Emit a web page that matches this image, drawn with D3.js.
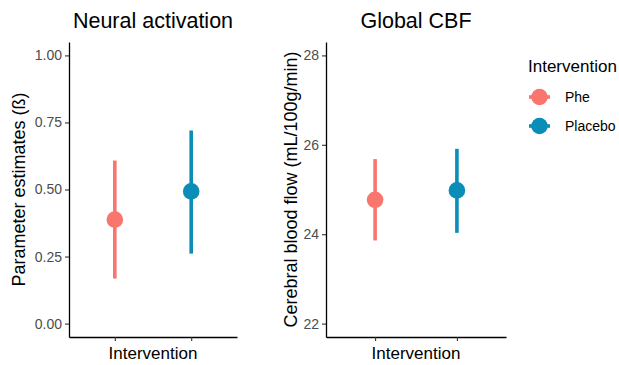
<!DOCTYPE html>
<html>
<head>
<meta charset="utf-8">
<script src="https://cdn.jsdelivr.net/npm/d3@7"></script>
<style>
  body { margin: 0; background: #fff; }
  text { font-family: "Liberation Sans", Arial, sans-serif; }
</style>
</head>
<body>
<div id="chart"></div>
<script>
// data
var groups = ["Phe", "Placebo"];
var colors = ["#F8766D", "#0A8DB6"];

var neuralMean = [0.388, 0.493];
var neuralLow = [0.168, 0.261];
var neuralHigh = [0.608, 0.720];
var neuralTicks = [0, 0.25, 0.5, 0.75, 1];

var cbfMean = [24.77, 24.98];
var cbfLow = [23.86, 24.03];
var cbfHigh = [25.68, 25.91];
var cbfTicks = [22, 24, 26, 28];

var width = 619, height = 365;

var svg = d3.select("#chart")
  .append("svg")
    .attr("width", width)
    .attr("height", height);

var color = d3.scaleOrdinal().domain(groups).range(colors);

function panel(opts) {
  var g = svg.append("g");

  // ggplot style: 5% expansion on continuous, 0.6 on discrete
  var span = opts.domain[1] - opts.domain[0];
  var y = d3.scaleLinear()
    .domain([opts.domain[0] - span * 0.05, opts.domain[1] + span * 0.05])
    .range([opts.bottom, opts.top]);
  var x = d3.scaleLinear()
    .domain([0.4, 2.6])
    .range([opts.left, opts.right]);

  var yAxis = g.append("g")
    .attr("transform", "translate(" + opts.left + ",0)")
    .call(d3.axisLeft(y).tickValues(opts.ticks).tickFormat(opts.fmt).tickSize(4).tickPadding(3).tickSizeOuter(0));
  var xAxis = g.append("g")
    .attr("transform", "translate(0," + opts.bottom + ")")
    .call(d3.axisBottom(x).tickValues([1, 2]).tickFormat("").tickSize(4).tickSizeOuter(0));

  [yAxis, xAxis].forEach(function(a) {
    a.select(".domain").attr("stroke", "#000").attr("stroke-width", 1.3);
    a.selectAll(".tick line").attr("stroke", "#333").attr("stroke-width", 1.1);
    a.selectAll(".tick text")
      .attr("fill", "#4d4d4d")
      .style("font-size", "14px")
      .style("font-family", "'Liberation Sans', Arial, sans-serif");
  });

  var data = groups.map(function(d, i) {
    return { group: d, pos: i + 1, mean: opts.mean[i], low: opts.low[i], high: opts.high[i] };
  });

  g.selectAll(".range")
    .data(data)
    .enter()
    .append("line")
      .attr("x1", d => x(d.pos))
      .attr("x2", d => x(d.pos))
      .attr("y1", d => y(d.low))
      .attr("y2", d => y(d.high))
      .attr("stroke", d => color(d.group))
      .attr("stroke-width", 3.6);

  g.selectAll(".pt")
    .data(data)
    .enter()
    .append("circle")
      .attr("cx", d => x(d.pos))
      .attr("cy", d => y(d.mean))
      .attr("r", 8.3)
      .attr("fill", d => color(d.group));

  // titles
  var cx = (opts.left + opts.right) / 2;
  g.append("text")
    .attr("x", cx)
    .attr("y", 28)
    .attr("text-anchor", "middle")
    .style("font-size", "21.5px")
    .text(opts.title);

  g.append("text")
    .attr("x", cx)
    .attr("y", 359)
    .attr("text-anchor", "middle")
    .style("font-size", "17px")
    .text("Intervention");

  g.append("text")
    .attr("transform", "translate(" + opts.ylabX + "," + (opts.top + opts.bottom) / 2 + ") rotate(-90)")
    .attr("text-anchor", "middle")
    .style("font-size", "18px")
    .text(opts.ylab);
}

panel({
  left: 69, right: 237, top: 42, bottom: 337,
  domain: [0, 1], ticks: neuralTicks, fmt: d3.format(".2f"),
  mean: neuralMean, low: neuralLow, high: neuralHigh,
  title: "Neural activation", ylab: "Parameter estimates (ß)", ylabX: 25
});

panel({
  left: 326, right: 506, top: 42, bottom: 337,
  domain: [22, 28], ticks: cbfTicks, fmt: d3.format("d"),
  mean: cbfMean, low: cbfLow, high: cbfHigh,
  title: "Global CBF", ylab: "Cerebral blood flow (mL/100g/min)", ylabX: 297
});

// legend
var legend = svg.append("g").attr("transform", "translate(528,0)");
legend.append("text")
  .attr("x", 0)
  .attr("y", 72)
  .style("font-size", "17px")
  .text("Intervention");

var items = legend.selectAll(".item")
  .data(groups)
  .enter()
  .append("g")
    .attr("transform", (d, i) => "translate(0," + (97 + i * 29) + ")");

items.append("line")
  .attr("x1", 1).attr("x2", 22)
  .attr("stroke", d => color(d))
  .attr("stroke-width", 3.6);
items.append("circle")
  .attr("cx", 11.5)
  .attr("r", 8.3)
  .attr("fill", d => color(d));
items.append("text")
  .attr("x", 37)
  .attr("dy", "0.35em")
  .style("font-size", "14px")
  .text(d => d);
</script>
</body>
</html>
